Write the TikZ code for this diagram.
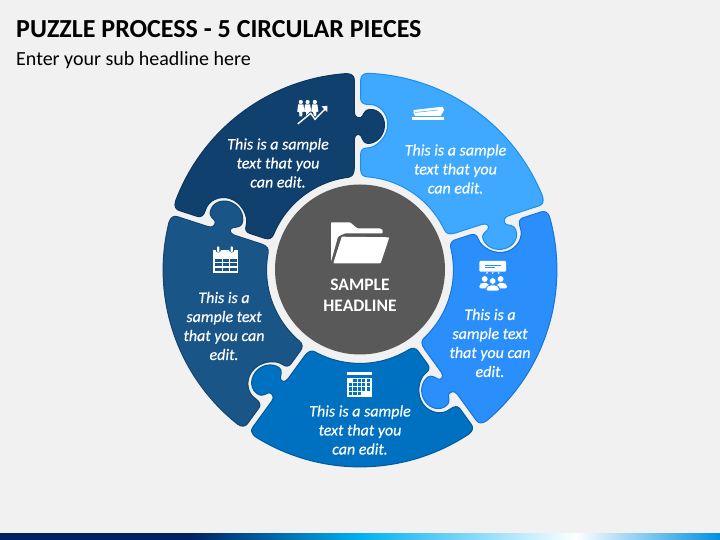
\documentclass[tikz,border=0pt]{standalone}
\usepackage{fontspec}
\setmainfont[ItalicFeatures={FakeBold=0.35}]{Carlito}
\definecolor{bgc}{HTML}{F1F1F1}
\definecolor{pa}{HTML}{10406E}\definecolor{pas}{HTML}{0C3560}
\definecolor{pb}{HTML}{3FA9FF}\definecolor{pbs}{HTML}{1B8EEE}
\definecolor{pc}{HTML}{2A8FFB}\definecolor{pcs}{HTML}{1A72D8}
\definecolor{pd}{HTML}{0070C0}\definecolor{pds}{HTML}{005A9E}
\definecolor{pe}{HTML}{1A5588}\definecolor{pes}{HTML}{134570}
\definecolor{hub}{HTML}{595959}
\definecolor{navy}{HTML}{002060}\definecolor{cyan1}{HTML}{00B0F0}\definecolor{edge1}{HTML}{0090E0}
\tikzset{
 tf/.style={rotate=-72},
 ptext/.style={text=white,align=center,font=\fontsize{16}{19}\selectfont\itshape,inner sep=0pt},
 hubtext/.style={text=white,align=center,font=\fontsize{17.5}{21.5}\selectfont\bfseries,inner sep=0pt},
 ico/.style={fill=white,draw=none},
}
\newcommand{\puzzlepiece}[3]{%
\begin{scope}[shift={(360,270)},rotate=#1]
\draw[fill=#2,draw=#3,line width=1pt,line join=round]
 (8.3,196.7) arc[start angle=87.6,end angle=21.9,radius=196.8]
 .. controls ([tf]-8,196) and ([tf]-5.7,194) .. ([tf]-5.7,190)
 -- ([tf]-5.7,158)
 .. controls ([tf]-5.7,153) and ([tf]-2,151.5) .. ([tf]1,152.5)
 .. controls ([tf]4,154) and ([tf]3,160) .. ([tf]10,160.5)
 .. controls ([tf]18,161) and ([tf]24.5,154) .. ([tf]24.5,145)
 .. controls ([tf]24.5,134) and ([tf]16,126.5) .. ([tf]8,126.5)
 .. controls ([tf]4,126.5) and ([tf]2.5,131) .. ([tf]1,134)
 .. controls ([tf]-1,137) and ([tf]-5.7,136) .. ([tf]-5.7,130)
 -- ([tf]-5.7,102)
 .. controls ([tf]-5.7,96) and ([tf]-8,93.3) .. ([tf]-11.7,92.7)
 arc[start angle=25.2,end angle=85.5,radius=93.4]
 .. controls (3,93.3) and (0.7,96) .. (0.7,100)
 -- (0.7,116)
 .. controls (0.7,120) and (3,122) .. (7,122)
 .. controls (16,122) and (28,133) .. (27.8,146)
 .. controls (27.6,157) and (19,166) .. (9,165.5)
 .. controls (4,165.5) and (0.7,167) .. (0.7,171)
 -- (0.7,190)
 .. controls (0.7,194) and (3,196.6) .. (8.3,196.7) -- cycle;
\end{scope}}
\begin{document}
\begin{tikzpicture}[x=1pt,y=1pt]
\useasboundingbox (0,0) rectangle (720,540);
\fill[bgc] (0,0) rectangle (720,540);
% gradient bar
\shade[left color=navy,right color=navy] (0,0) rectangle (190,6);
\shade[left color=navy,right color=cyan1] (189.5,0) rectangle (360,6);
\shade[left color=cyan1,right color=white] (359.5,0) rectangle (576,6);
\shade[left color=white,right color=edge1] (575.5,0) rectangle (720,6);
% pieces
\puzzlepiece{0}{pb}{pbs}
\puzzlepiece{72}{pa}{pas}
\puzzlepiece{144}{pe}{pes}
\puzzlepiece{216}{pd}{pds}
\puzzlepiece{-72}{pc}{pcs}
\begin{scope}[shift={(0,540)},y=-1pt]
\node[anchor=west,inner sep=0pt,font=\fontsize{26}{30}\selectfont\bfseries] (title) at (16,29) {PUZZLE PROCESS - 5 CIRCULAR PIECES};
\node[anchor=west,inner sep=0pt,font=\fontsize{20}{24}\selectfont] (subtitle) at (16,60) {Enter your sub headline here};
\filldraw[fill=hub,draw=none] (360,269.5) circle[radius=85];
\node[ptext] (t1) at (278,163) {This is a sample\\text that you\\can edit.};
\node[ptext] (t2) at (455.5,169) {This is a sample\\text that you\\can edit.};
\node[ptext] (t3) at (490,343) {This is a\\sample text\\that you can\\edit.};
\node[ptext] (t4) at (360,430) {This is a sample\\text that you\\can edit.};
\node[ptext] (t5) at (224,326) {This is a\\sample text\\that you can\\edit.};
\node[hubtext] (hubt) at (360,295.5) {SAMPLE\\HEADLINE};
% folder
\fill[ico,rounded corners=0.8pt] (331,222.3)--(350,222.3)--(357.3,228.3)--(380,228.3)--(382.7,230)--(382.7,233.3)--(345,233.3)--(338,236.7)--(331,261.7)--cycle;
\fill[ico,rounded corners=0.8pt] (341.7,236.7)--(389.3,237.3)--(380.7,263.3)--(333.3,263.3)--cycle;
% people + arrow icon
\foreach \cx in {300.8,307.6,314.8}{
 \fill[ico] (\cx,102) circle[radius=2.1];
 \fill[ico] (\cx-2.6,104.5)--(\cx+2.6,104.5)--(\cx+3.6,111.5)--(\cx+1.6,112)--(\cx+1.4,116.5)--(\cx-1.4,116.5)--(\cx-1.6,112)--(\cx-3.6,111.5)--cycle;
}
\draw[pa,line width=2.6pt] (297.7,124)--(310.7,113.3)--(315,119.3)--(325.2,108.8);
\draw[white,line width=1.4pt] (297.7,124)--(310.7,113.3)--(315,119.3)--(325.2,108.8);
\fill[ico] (321.4,106.4)--(327.5,105.8)--(327.2,112)--cycle;
% stapler
\fill[ico] (412,117.3) rectangle (444,120);
\fill[ico] (413.7,110)--(442.7,106.7)--(444,110)--(440.7,116)--(415,116)--(413.7,113.3)--cycle;
\draw[pb,line width=0.5pt] (415,112.5)--(438,110);
% screen + people
\fill[ico,rounded corners=1pt] (479.3,261) rectangle (506,271.7);
\draw[pc,line width=0.7pt] (484.7,265)--(501.3,265) (484.7,267.7)--(495.3,267.7);
\fill[ico] (486,272.4)--(488,272.4)--(487,274.2)--cycle (491.7,272.4)--(493.7,272.4)--(492.7,274.2)--cycle (497.7,272.4)--(499.7,272.4)--(498.7,274.2)--cycle;
\fill[ico] (484.7,279) circle[radius=2.9] (500.6,279) circle[radius=2.9];
\fill[ico,rounded corners=2pt] (479.3,288.5)--(479.3,284.5)--(482,282.8)--(488,282.8)--(490,288.5)--cycle (507,288.5)--(507,284.5)--(504,282.8)--(498,282.8)--(496,288.5)--cycle;
\filldraw[fill=white,draw=pc,line width=0.6pt] (492.7,281) circle[radius=3.3];
\filldraw[fill=white,draw=pc,line width=0.6pt,rounded corners=2pt] (486,291)--(486,287.5)--(489,285)--(496.5,285)--(499.5,287.5)--(499.5,291)--cycle;
% calendar piece 4
\fill[ico] (346.7,372) rectangle (372,375.3);
\fill[ico] (346.7,377.7) rectangle (372,397);
\foreach \yy/\cols in {378.6/{353.3,357.7,362.2,366.7},383/{349,353.3,357.7,362.2,366.7},387.4/{349,353.3,357.7,362.2,366.7},391.8/{349,353.3,357.7}}{
 \foreach \xx in \cols{
  \fill[pd] (\xx,\yy) rectangle ++(3.2,3.2);
 }}
% calendar piece 5
\fill[ico] (213,250) rectangle (237.5,272.7);
\fill[pe] (218.3,250) circle[radius=2.6] (231.7,250) circle[radius=2.6];
\fill[ico,rounded corners=0.8pt] (217.2,246.5) rectangle (219.4,252.2) (230.6,246.5) rectangle (232.8,252.2);
\foreach \yy in {258.8,263.2,267.7}{
 \foreach \xx in {215,222.7,230.3}{
  \fill[pe] (\xx,\yy) rectangle ++(6.6,3);
 }}
\end{scope}
\end{tikzpicture}
\end{document}
